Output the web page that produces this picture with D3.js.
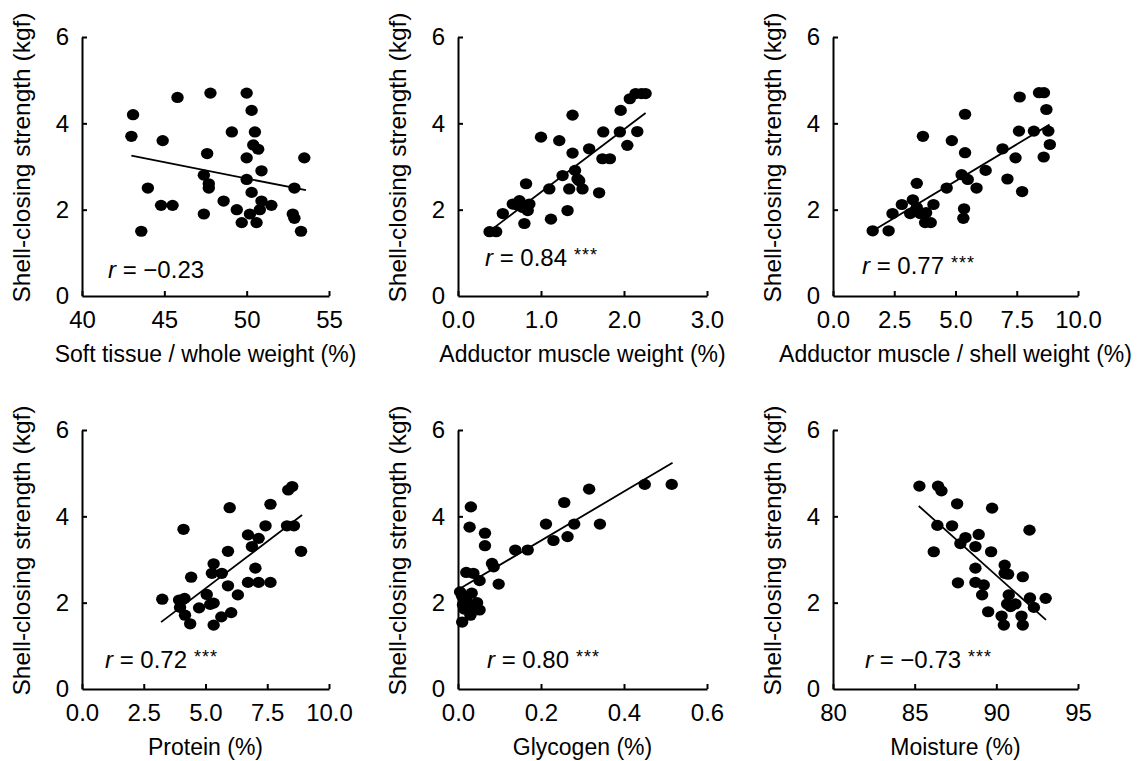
<!DOCTYPE html>
<html>
<head>
<meta charset="utf-8">
<script src="https://cdn.jsdelivr.net/npm/d3@7"></script>
<style>
  body { margin: 0; background: #fff; }
  text { font-family: "Liberation Sans", Arial, sans-serif; fill: #000; }
</style>
</head>
<body>
<svg width="1147" height="761"></svg>
<script>
// ---- data ----
const yTicks = [0, 2, 4, 6];
const yLabel = 'Shell-closing strength (kgf)';

const softTissueTicks = [40, 45, 50, 55];
const softTissue = [[43.1,4.2],[43.0,3.7],[45.8,4.6],[47.8,4.7],[50.0,4.7],[50.3,4.3],[49.1,3.8],[50.5,3.8],[44.9,3.6],[47.6,3.3],[50.4,3.5],[50.7,3.4],[50.0,3.2],[53.5,3.2],[50.9,2.9],[47.4,2.8],[47.7,2.6],[47.7,2.5],[50.0,2.7],[44.0,2.5],[52.9,2.5],[44.8,2.1],[45.5,2.1],[48.6,2.2],[50.3,2.4],[50.9,2.2],[51.5,2.1],[49.4,2.0],[50.2,1.9],[50.8,2.0],[47.4,1.9],[49.7,1.7],[50.6,1.7],[52.8,1.9],[52.9,1.8],[43.6,1.5],[53.3,1.5]];
const softTissueFit = [[43.0,3.25],[53.6,2.45]];

const adductorWeightTicks = [0, 1, 2, 3];
const adductorWeight = [[0.38,1.49],[0.46,1.49],[0.54,1.91],[0.66,2.13],[0.74,2.21],[0.78,2.05],[0.84,1.98],[0.80,1.68],[0.86,2.13],[0.82,2.60],[0.72,2.10],[1.00,3.68],[1.22,3.60],[1.12,1.78],[1.10,2.48],[1.32,1.98],[1.26,2.79],[1.34,2.48],[1.38,4.19],[1.38,3.31],[1.41,2.91],[1.44,2.71],[1.50,2.48],[1.46,2.67],[1.58,3.41],[1.70,2.39],[1.74,3.18],[1.83,3.18],[1.75,3.80],[1.95,3.80],[1.96,4.30],[2.04,3.49],[2.16,3.81],[2.07,4.57],[2.14,4.69],[2.26,4.69],[2.21,4.69]];
const adductorWeightFit = [[0.44,1.59],[2.26,4.24]];

const adductorShellTicks = [0, 2.5, 5, 7.5, 10];
const adductorShell = [[1.62,1.51],[2.27,1.51],[2.43,1.91],[2.81,2.12],[3.26,2.23],[3.15,1.91],[3.42,2.05],[3.56,1.91],[3.80,1.93],[4.10,2.12],[3.76,1.70],[3.99,1.70],[3.42,2.61],[3.67,3.70],[4.64,2.50],[4.85,3.60],[5.25,2.81],[5.50,2.70],[5.39,3.32],[5.39,4.21],[5.35,2.02],[5.32,1.80],[5.86,2.50],[6.23,2.91],[6.92,3.41],[7.12,2.71],[7.45,3.20],[7.62,4.61],[7.59,3.82],[7.72,2.42],[8.20,3.82],[8.41,4.71],[8.61,4.71],[8.71,4.32],[8.79,3.82],[8.85,3.51],[8.60,3.22]];
const adductorShellFit = [[1.80,1.57],[8.84,3.97]];

const proteinTicks = [0, 2.5, 5, 7.5, 10];
const protein = [[3.25,2.08],[3.93,2.06],[4.15,2.10],[3.97,1.89],[4.17,1.71],[4.38,1.51],[4.11,3.70],[4.42,2.59],[4.74,1.88],[5.05,2.19],[5.19,1.96],[5.33,1.99],[5.33,1.48],[5.33,2.90],[5.26,2.68],[5.66,2.68],[5.64,1.67],[6.04,1.77],[5.91,2.39],[5.91,3.19],[5.98,4.20],[6.31,2.18],[6.72,3.57],[6.88,3.30],[7.15,3.49],[7.02,2.80],[6.72,2.47],[7.15,2.47],[7.63,2.47],[7.43,3.78],[7.63,4.28],[8.30,3.78],[8.58,3.78],[8.35,4.61],[8.51,4.69],[8.87,3.19]];
const proteinFit = [[3.20,1.55],[8.91,4.03]];

const glycogenTicks = [0, 0.2, 0.4, 0.6];
const glycogen = [[0.031,4.22],[0.028,3.75],[0.065,3.61],[0.065,3.32],[0.082,2.91],[0.086,2.83],[0.098,2.43],[0.037,2.68],[0.052,2.51],[0.033,2.22],[0.046,2.00],[0.030,1.91],[0.052,1.83],[0.030,1.71],[0.138,3.22],[0.168,3.22],[0.212,3.82],[0.230,3.44],[0.264,3.53],[0.256,4.32],[0.280,3.82],[0.316,4.63],[0.342,3.82],[0.450,4.74],[0.515,4.74],[0.010,2.15],[0.012,1.95],[0.015,1.85],[0.010,1.55],[0.020,2.05],[0.005,2.25],[0.020,2.70]];
const glycogenFit = [[0.005,2.33],[0.517,5.24]];

const moistureTicks = [80, 85, 90, 95];
const moisture = [[85.29,4.70],[86.43,4.70],[86.64,4.59],[87.60,4.29],[89.74,4.19],[86.39,3.79],[87.29,3.78],[86.17,3.18],[88.11,3.51],[87.80,3.37],[88.92,3.58],[88.72,3.30],[89.68,3.18],[92.03,3.68],[88.72,2.80],[90.51,2.87],[90.51,2.68],[90.72,2.66],[91.62,2.60],[87.65,2.46],[88.72,2.47],[89.23,2.41],[89.13,2.18],[90.76,2.18],[90.66,1.97],[91.17,1.97],[90.87,1.91],[92.06,2.11],[93.02,2.10],[92.30,1.89],[89.50,1.79],[90.32,1.69],[90.46,1.48],[91.54,1.69],[91.62,1.48]];
const moistureFit = [[85.25,4.24],[93.04,1.60]];

const xLabels = ['Soft tissue / whole weight (%)', 'Adductor muscle weight (%)', 'Adductor muscle / shell weight (%)',
                 'Protein (%)', 'Glycogen (%)', 'Moisture (%)'];
const rValues = ['\u22120.23', '0.84', '0.77', '0.72', '0.80', '\u22120.73'];
const rStars = ['', '***', '***', '***', '***', '***'];

// ---- layout ----
const svg = d3.select('svg');
const cols = [[82, 329], [458, 707], [833, 1078]];
const rows = [[37, 296], [430, 689]];

const panels = [
  { data: softTissue, fit: softTissueFit, ticks: softTissueTicks, fmt: d3.format('d'),   row: 0, col: 0, rx: 26, ry: 18 },
  { data: adductorWeight, fit: adductorWeightFit, ticks: adductorWeightTicks, fmt: d3.format('.1f'), row: 0, col: 1, rx: 27, ry: 30 },
  { data: adductorShell, fit: adductorShellFit, ticks: adductorShellTicks, fmt: d3.format('.1f'), row: 0, col: 2, rx: 29, ry: 22 },
  { data: protein, fit: proteinFit, ticks: proteinTicks, fmt: d3.format('.1f'), row: 1, col: 0, rx: 23, ry: 21 },
  { data: glycogen, fit: glycogenFit, ticks: glycogenTicks, fmt: d3.format('.1f'), row: 1, col: 1, rx: 29, ry: 21 },
  { data: moisture, fit: moistureFit, ticks: moistureTicks, fmt: d3.format('d'),   row: 1, col: 2, rx: 32, ry: 21 }
];

panels.forEach((p, i) => {
  const [x0, x1] = cols[p.col];
  const [y0, y1] = rows[p.row];

  const xScale = d3.scaleLinear()
    .domain(d3.extent(p.ticks))
    .range([x0, x1]);
  const yScale = d3.scaleLinear()
    .domain([0, 6])
    .range([y1, y0]);

  const g = svg.append('g');

  const xAxis = d3.axisBottom(xScale)
    .tickValues(p.ticks)
    .tickFormat(p.fmt)
    .tickSizeInner(-5)
    .tickSizeOuter(0)
    .tickPadding(15);
  const yAxis = d3.axisLeft(yScale)
    .tickValues(yTicks)
    .tickFormat(d3.format('d'))
    .tickSizeInner(-5)
    .tickSizeOuter(0)
    .tickPadding(13);

  const xAxisG = g.append('g')
    .attr('transform', `translate(0,${y1})`)
    .call(xAxis);
  const yAxisG = g.append('g')
    .attr('transform', `translate(${x0},0)`)
    .call(yAxis);

  [xAxisG, yAxisG].forEach(a => {
    a.attr('font-size', null).attr('font-family', null);
    a.selectAll('path, line').attr('stroke', '#000').attr('stroke-width', 2);
    a.selectAll('text').style('font-size', '24px');
  });
  // the 0 y tick is covered by the x axis
  yAxisG.selectAll('.tick').filter(d => d === 0).select('line').remove();

  // axis titles
  g.append('text')
    .attr('x', (x0 + x1) / 2)
    .attr('y', y1 + 66)
    .attr('text-anchor', 'middle')
    .style('font-size', '23px')
    .text(xLabels[i]);

  g.append('text')
    .attr('transform', `translate(${x0 - 52},${(y0 + y1) / 2 - 9}) rotate(-90)`)
    .attr('text-anchor', 'middle')
    .style('font-size', '24.5px')
    .text(yLabel);

  // regression line
  const line = d3.line()
    .x(d => xScale(d[0]))
    .y(d => yScale(d[1]));
  g.append('path')
    .datum(p.fit)
    .attr('d', line)
    .attr('fill', 'none')
    .attr('stroke', '#000')
    .attr('stroke-width', 1.8);

  // points
  g.selectAll('ellipse').data(p.data)
    .enter().append('ellipse')
      .attr('cx', d => xScale(d[0]))
      .attr('cy', d => yScale(d[1]))
      .attr('rx', 6.2)
      .attr('ry', 5.6)
      .attr('fill', '#000');

  // correlation label
  const rText = g.append('text')
    .attr('x', x0 + p.rx)
    .attr('y', y1 - p.ry)
    .style('font-size', '24px');
  rText.append('tspan').style('font-style', 'italic').text('r');
  rText.append('tspan').text(' = ' + rValues[i]);
  if (rStars[i]) {
    rText.append('tspan')
      .attr('dx', 7)
      .attr('dy', -5)
      .style('font-size', '18px')
      .style('letter-spacing', '1px')
      .text(rStars[i]);
  }
});
</script>
</body>
</html>
